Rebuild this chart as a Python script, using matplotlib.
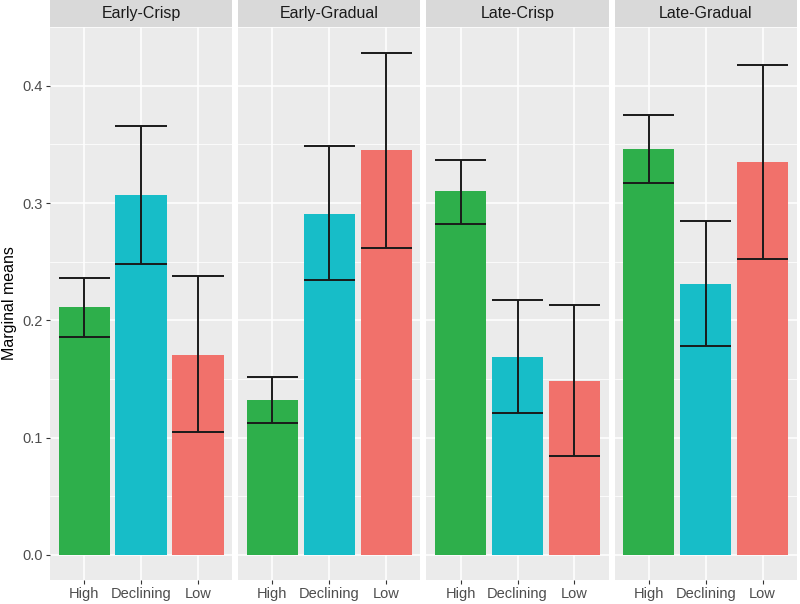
import matplotlib
matplotlib.use("Agg")
import matplotlib.pyplot as plt
from matplotlib.patches import Rectangle
import numpy as np

panels = ["Early-Crisp", "Early-Gradual", "Late-Crisp", "Late-Gradual"]
categories = ["High", "Declining", "Low"]
means = {
    "Early-Crisp":   [0.211, 0.307, 0.170],
    "Early-Gradual": [0.132, 0.291, 0.345],
    "Late-Crisp":    [0.310, 0.169, 0.148],
    "Late-Gradual":  [0.346, 0.231, 0.335],
}
upper = {
    "Early-Crisp":   [0.236, 0.366, 0.238],
    "Early-Gradual": [0.152, 0.349, 0.428],
    "Late-Crisp":    [0.337, 0.217, 0.213],
    "Late-Gradual":  [0.375, 0.285, 0.418],
}
lower = {
    "Early-Crisp":   [0.186, 0.248, 0.105],
    "Early-Gradual": [0.112, 0.234, 0.262],
    "Late-Crisp":    [0.282, 0.121, 0.084],
    "Late-Gradual":  [0.317, 0.178, 0.252],
}
colors = ["#2EAF4B", "#17BDC8", "#F1716B"]
yticks = [0.0, 0.1, 0.2, 0.3, 0.4]

plt.rcParams['font.family'] = ['Liberation Sans', 'DejaVu Sans']
fig, axes = plt.subplots(1, 4, figsize=(8, 6.04), dpi=100, sharey=True)
fig.subplots_adjust(left=0.0625, right=0.996, top=0.955, bottom=0.040, wspace=0.033)

x = np.arange(1, 4)
ymax = 0.428
for i, (ax, p) in enumerate(zip(axes, panels)):
    ax.set_facecolor("#EBEBEB")
    ax.bar(x, means[p], width=0.9, color=colors, zorder=3)
    m = np.array(means[p]); up = np.array(upper[p]); lo = np.array(lower[p])
    ax.vlines(x, lo, up, color="#1a1a1a", lw=1.4, zorder=4)
    ax.hlines(up, x - 0.45, x + 0.45, color="#1a1a1a", lw=1.4, zorder=4)
    ax.hlines(lo, x - 0.45, x + 0.45, color="#1a1a1a", lw=1.4, zorder=4)
    ax.set_xlim(0.4, 3.6)
    ax.set_ylim(-0.05 * ymax, ymax * 1.05)
    ax.set_yticks(yticks)
    ax.set_yticks([0.05, 0.15, 0.25, 0.35, 0.45], minor=True)
    ax.set_xticks(x)
    ax.set_xticklabels(categories)
    ax.grid(True, which="major", color="white", lw=1.1, zorder=0)
    ax.grid(True, which="minor", axis="y", color="white", lw=0.55, zorder=0)
    ax.set_axisbelow(True)
    for s in ax.spines.values():
        s.set_visible(False)
    ax.tick_params(axis="both", which="major", length=3, width=0.8, color="#333333",
                   labelcolor="#4D4D4D", labelsize=10.5, pad=2)
    ax.tick_params(axis="both", which="minor", length=0)
    if i > 0:
        ax.tick_params(axis="y", which="major", length=0)
    # strip
    strip = Rectangle((0, 1.0), 1, 0.049, transform=ax.transAxes, facecolor="#D9D9D9",
                      edgecolor="none", clip_on=False)
    ax.add_patch(strip)
    ax.text(0.5, 1.0245, p, transform=ax.transAxes, ha="center", va="center",
            fontsize=11.5, color="#1A1A1A")

axes[0].yaxis.set_major_formatter(matplotlib.ticker.FormatStrFormatter("%.1f"))
axes[0].set_ylabel("Marginal means", fontsize=11.5, color="black", labelpad=4)

fig.savefig("out.png", dpi=100)
